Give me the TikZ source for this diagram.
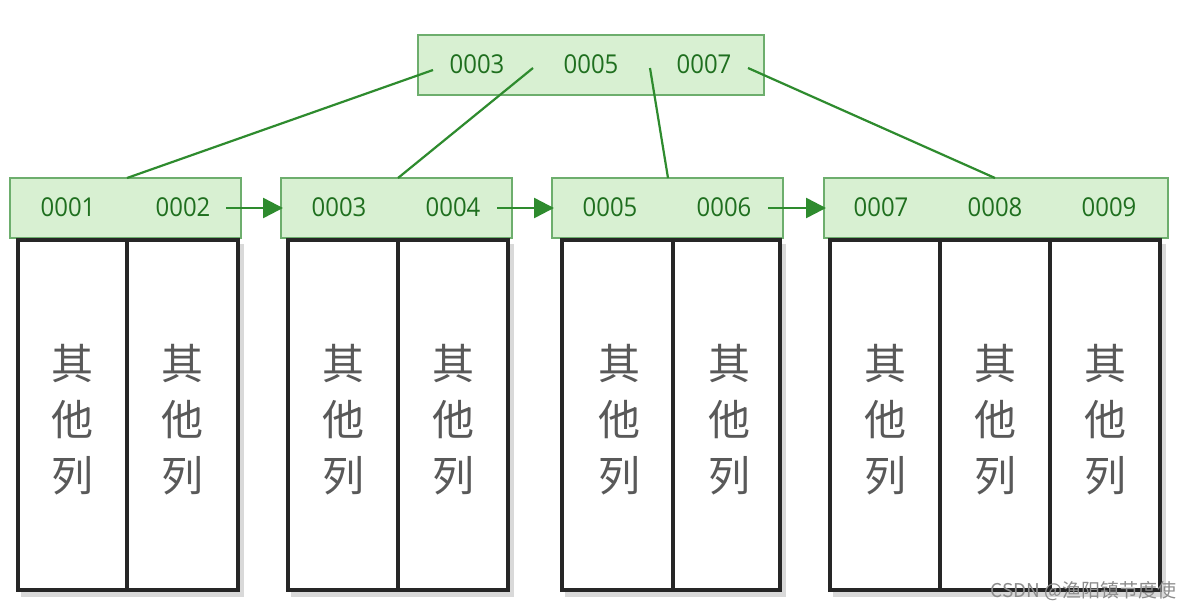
\documentclass[tikz,border=0pt]{standalone}
\usepackage{fontspec}
\setmainfont{Open Sans}
\newfontfamily\cjk{Noto Sans CJK SC}
\usetikzlibrary{arrows.meta}
\definecolor{kg}{HTML}{2E8B2E}
\definecolor{kfill}{HTML}{D8F0D2}
\definecolor{tg}{HTML}{1F6F1F}
\tikzset{
 keybox/.style={draw=kg!70,fill=kfill,line width=1.5pt},
 key/.style={text=tg,font=\fontsize{26}{28}\selectfont,inner sep=0,xscale=0.92},
 col/.style={draw=black!85,line width=3.2pt},
 colshadow/.style={fill=black!15},
 cn/.style={text=black!65,font=\cjk\fontsize{42}{56}\selectfont,align=center,inner sep=0},
 link/.style={draw=kg,line width=2.2pt},
 nxt/.style={draw=kg,line width=2.5pt,-{Triangle[length=20pt,width=20pt]}},
}
\begin{document}
\begin{tikzpicture}[x=1pt,y=-1pt]
\useasboundingbox[fill=white] (0,0) rectangle (1183,611);
% top
\draw[keybox] (418,35) rectangle (764,95);
\node[key] (t1) at (477,64) {0003};
\node[key] (t2) at (591,64) {0005};
\node[key] (t3) at (704,64) {0007};
% leaves key boxes
\draw[keybox] (10,178) rectangle (241,238);
\draw[keybox] (281,178) rectangle (512,238);
\draw[keybox] (552,178) rectangle (783,238);
\draw[keybox] (824,178) rectangle (1168,238);
\node[key] (a1) at (68,207) {0001};
\node[key] (a2) at (183,207) {0002};
\node[key] (b1) at (339,207) {0003};
\node[key] (b2) at (453,207) {0004};
\node[key] (c1) at (610,207) {0005};
\node[key] (c2) at (724,207) {0006};
\node[key] (d1) at (881,207) {0007};
\node[key] (d2) at (995,207) {0008};
\node[key] (d3) at (1109,207) {0009};
\coordinate (la) at (127,178);
\coordinate (lb) at (398,178);
\coordinate (lc) at (668,178);
\coordinate (ld) at (995,178);
\coordinate (ta) at (433,70);
\coordinate (tb) at (533,68);
\coordinate (tc) at (650,68);
\coordinate (td) at (748,68);
\draw[link] (ta) -- (la);
\draw[link] (tb) -- (lb);
\draw[link] (tc) -- (lc);
\draw[link] (td) -- (ld);
\coordinate (e1) at (226,208); \coordinate (f1) at (283,208);
\coordinate (e2) at (497,208); \coordinate (f2) at (554,208);
\coordinate (e3) at (768,208); \coordinate (f3) at (826,208);
\draw[nxt] (e1) -- (f1);
\draw[nxt] (e2) -- (f2);
\draw[nxt] (e3) -- (f3);
% column boxes
\foreach \l/\r in {18/238,288/508,562/780,830/1160}{
  \fill[colshadow] (\l+3,244) rectangle (\r+6,597);
  \draw[col,fill=white] (\l,240) rectangle (\r,590);
}
\draw[col] (127,240) -- (127,590);
\draw[col] (398,240) -- (398,590);
\draw[col] (673,240) -- (673,590);
\draw[col] (940,240) -- (940,590);
\draw[col] (1050,240) -- (1050,590);
\foreach \x/\n in {72/q1,182/q2,343/q3,453/q4,619/q5,729/q6,885/q7,995/q8,1105/q9}{
  \node[cn] (\n) at (\x,420) {其\\他\\列};
}
\node[text=black!45,font=\cjk\fontsize{19}{21}\selectfont,anchor=east] (wm) at (1180,591) {CSDN @渔阳镇节度使};
\end{tikzpicture}
\end{document}
